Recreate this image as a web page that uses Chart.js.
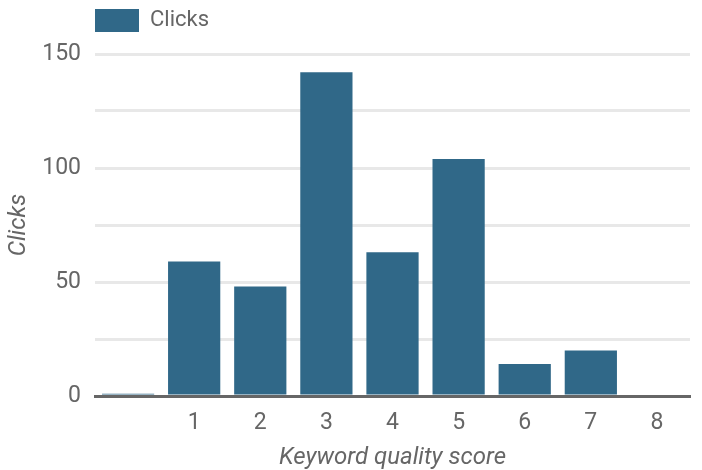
<!DOCTYPE html>
<html>
<head>
<meta charset="utf-8">
<script src="https://cdn.jsdelivr.net/npm/chart.js@4/dist/chart.umd.min.js"></script>
<style>
  html, body { margin: 0; padding: 0; background: #ffffff; }
  #wrap { width: 702px; height: 470px; }
</style>
</head>
<body>
<div id="wrap"><canvas id="chart" width="702" height="470"></canvas></div>
<script>
// Clicks by keyword quality score
const categories = ['', '1', '2', '3', '4', '5', '6', '7', '8'];
const clicks = [1, 59, 48, 142, 63, 104, 14, 20, 0];
const yTickLabels = [0, 50, 100, 150];

const barColor = '#306888';
const textColor = '#666666';

// Leave some room between the legend and the plot
const legendSpacing = {
  id: 'legendSpacing',
  afterInit(chart) {
    const legend = chart.legend;
    const baseFit = legend.fit;
    legend.fit = function () {
      baseFit.call(this);
      this.height += 12;
    };
  }
};

new Chart(document.getElementById('chart'), {
  type: 'bar',
  data: {
    labels: categories,
    datasets: [{
      label: 'Clicks',
      data: clicks,
      backgroundColor: barColor,
      borderWidth: 0,
      categoryPercentage: 1.0,
      barPercentage: 0.79
    }]
  },
  options: {
    responsive: false,
    animation: false,
    devicePixelRatio: 1,
    layout: { padding: { top: 9, right: 12, bottom: 0, left: 0 } },
    plugins: {
      legend: {
        display: true,
        position: 'top',
        align: 'start',
        fullSize: false,
        labels: {
          boxWidth: 44,
          boxHeight: 23,
          padding: 0,
          color: textColor,
          font: { family: 'Roboto', size: 22 }
        }
      },
      tooltip: { enabled: false }
    },
    scales: {
      x: {
        grid: { display: false, drawTicks: false },
        border: { display: true, color: '#666666', width: 3 },
        ticks: {
          color: textColor,
          padding: 13,
          font: { family: 'Roboto', size: 23 }
        },
        title: {
          display: true,
          text: 'Keyword quality score',
          color: textColor,
          padding: { top: 4, bottom: -2 },
          font: { family: 'Roboto', size: 24, style: 'italic' }
        },
        afterFit(scale) { scale.height = 74; }
      },
      y: {
        min: 0,
        max: 150,
        grid: { color: '#e8e8e8', lineWidth: 3, drawTicks: false },
        border: { display: false },
        ticks: {
          stepSize: 25,
          color: textColor,
          padding: 14,
          font: { family: 'Roboto', size: 23 },
          callback: (v) => yTickLabels.includes(v) ? String(v) : ''
        },
        title: {
          display: true,
          text: 'Clicks',
          color: textColor,
          padding: { top: 5, bottom: 0 },
          font: { family: 'Roboto', size: 24, style: 'italic' }
        },
        afterFit(scale) { scale.width = 95; }
      }
    }
  },
  plugins: [legendSpacing]
});
</script>
</body>
</html>
